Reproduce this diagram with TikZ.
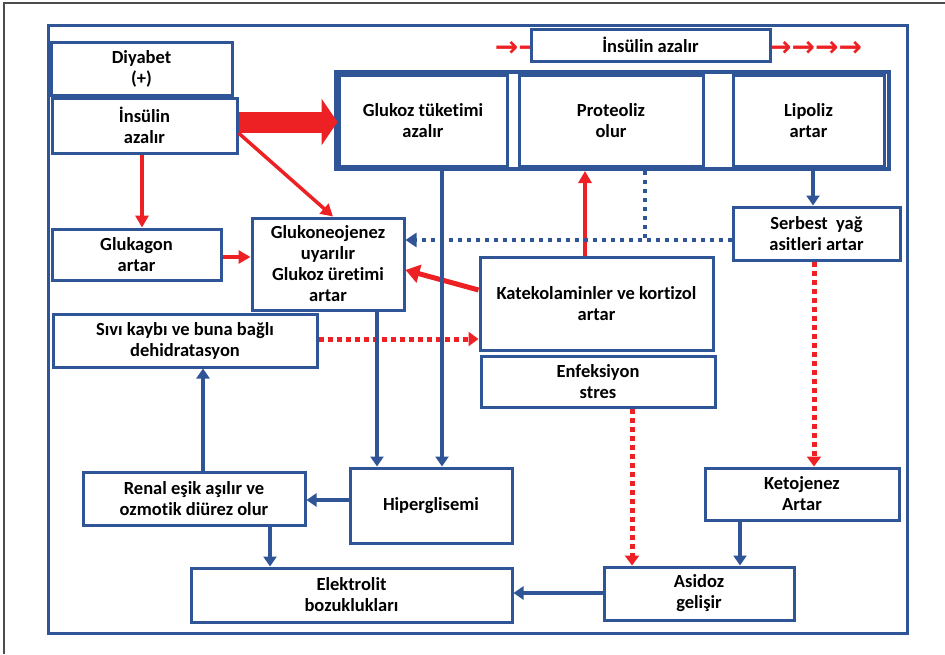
\documentclass[tikz,border=0pt]{standalone}
\usepackage{fontspec}
\setmainfont[Ligatures=NoCommon]{Carlito}
\newfontfamily\arrowfont{DejaVu Sans}
\usepackage{tikz}
\usetikzlibrary{arrows.meta, calc}
\definecolor{dblue}{RGB}{47, 85, 151}
\definecolor{ared}{RGB}{237, 32, 36}

\begin{document}
\begin{tikzpicture}[
  x=1pt, y=-1pt,
  box/.style={draw=dblue, line width=3pt, fill=white, align=center, inner sep=0pt,
    font=\bfseries\fontsize{18.5}{21}\selectfont},
  barr/.style={draw=dblue, line width=4pt, -{Triangle[length=10pt, width=13pt]}},
  rarr/.style={draw=ared, line width=3.5pt, -{Triangle[length=12pt, width=13pt]}},
  bdot/.style={draw=dblue, line width=4pt, dash pattern=on 4pt off 5pt},
  rdot/.style={draw=ared, line width=5pt, dash pattern=on 5pt off 4pt, -{Triangle[length=10pt, width=14pt]}},
  ticks/.style={text=ared, inner sep=0pt, font=\arrowfont\bfseries\fontsize{28}{28}\selectfont}
]
  \useasboundingbox (0,0) rectangle (945,654);
  \draw[black!70, line width=1.2pt] (4,654) -- (4,3) -- (945,3);
  \draw[dblue, line width=3pt] (48,25) rectangle (907,633);

  \node[ticks, anchor=east] (arl) at (542,49) {→→};
  \node[ticks, anchor=west] (arr) at (768,49) {→→→→};

  \node[box, minimum width=181, minimum height=53] (diyabet) at (141.5,68.5) {Diyabet\\(+)};
  \node[box, minimum width=185, minimum height=55] (insl) at (144.5,125.5) {İnsülin\\azalır};
  \node[box, minimum width=239, minimum height=32] (inst) at (650.5,45) {İnsülin azalır};

  \node[box, line width=4pt, minimum width=553, minimum height=97] (cont) at (612.5,120.5) {};
  \node[box, minimum width=168, minimum height=91] (glukoz) at (423,120.5) {Glukoz tüketimi\\azalır};
  \node[box, minimum width=184, minimum height=91] (proteo) at (611,120.5) {Proteoliz\\olur};
  \node[box, minimum width=151, minimum height=91] (lipo) at (808.5,120.5) {Lipoliz\\artar};

  \node[box, minimum width=169, minimum height=51] (glukagon) at (136.5,254.5) {Glukagon\\artar};
  \node[box, minimum width=152, minimum height=92] (neo) at (328,264) {Glukoneojenez\\uyarılır\\Glukoz üretimi\\artar};
  \node[box, minimum width=264, minimum height=53] (sivi) at (185,340.5) {Sıvı kaybı ve buna bağlı\\dehidratasyon};
  \node[box, minimum width=233, minimum height=93] (kateko) at (596.5,303.5) {Katekolaminler ve kortizol\\artar};
  \node[box, minimum width=234, minimum height=51] (enfek) at (598,381.5) {Enfeksiyon\\stres};
  \node[box, minimum width=167, minimum height=53] (serbest) at (816.5,233.5) {Serbest\ \ yağ\\asitleri artar};
  \node[box, minimum width=222, minimum height=53] (renal) at (194,498.5) {Renal eşik aşılır ve\\ozmotik diürez olur};
  \node[box, minimum width=162, minimum height=75] (hiper) at (431,505.5) {Hiperglisemi};
  \node[box, minimum width=321, minimum height=54] (elektro) at (351.5,595) {Elektrolit\\bozuklukları};
  \node[box, minimum width=194, minimum height=52] (keto) at (802,494) {Ketojenez\\Artar};
  \node[box, minimum width=190, minimum height=53] (asidoz) at (699,593.5) {Asidoz\\gelişir};

  \draw[ared, line width=21pt, -{Triangle[length=16pt, width=46pt]}] (insl.east |- 0,122) -- (glukoz.west |- 0,122);
  \draw[rarr] (insl.east |- 0,133) -- (neo.north -| 333,0);
  \draw[rarr] (insl.south -| 142,0) -- (glukagon.north -| 142,0);
  \draw[rarr] (glukagon.east |- 0,257) -- (neo.west |- 0,257);
  \draw[rarr, line width=5pt, -{Triangle[length=14pt, width=18pt]}] (kateko.west |- 0,290) -- (neo.east |- 0,270);
  \draw[rarr] (kateko.north -| 585,0) -- (cont.south -| 585,0);

  \coordinate (bj) at (645,240);
  \draw[bdot] (cont.south -| bj) -- (bj);
  \draw[bdot, -{Triangle[length=11pt, width=14pt]}] (serbest.west |- bj) -- (neo.east |- bj);
  \draw[barr] (cont.south -| 813,0) -- (serbest.north -| 813,0);
  \draw[rdot] (serbest.south -| 814,0) -- (keto.north -| 814,0);
  \draw[rdot] (sivi.east |- 0,339) -- (kateko.west |- 0,339);
  \draw[rdot] (enfek.south -| 632,0) -- (asidoz.north -| 632,0);

  \draw[barr] (neo.south -| 377,0) -- (hiper.north -| 377,0);
  \draw[barr] (cont.south -| 442,0) -- (hiper.north -| 442,0);
  \draw[barr] (hiper.west |- 0,500) -- (renal.east |- 0,500);
  \draw[barr] (renal.north -| 203,0) -- (sivi.south -| 203,0);
  \draw[barr] (renal.south -| 270,0) -- (elektro.north -| 270,0);
  \draw[barr] (keto.south -| 740,0) -- (asidoz.north -| 740,0);
  \draw[barr] (asidoz.west |- 0,593) -- (elektro.east |- 0,593);
\end{tikzpicture}
\end{document}
